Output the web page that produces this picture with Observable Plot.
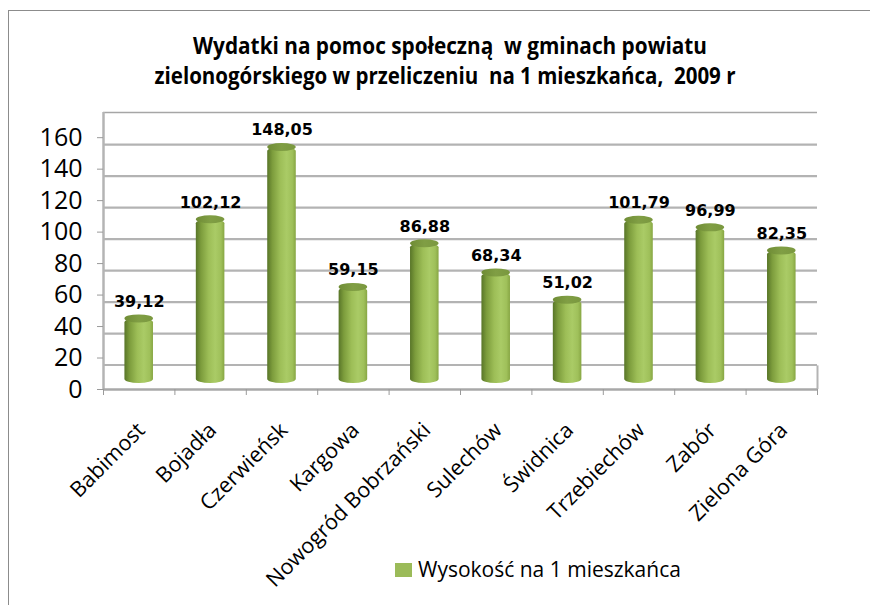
<!DOCTYPE html>
<html>
<head>
<meta charset="utf-8">
<script src="https://cdn.jsdelivr.net/npm/d3@7"></script>
<script src="https://cdn.jsdelivr.net/npm/@observablehq/plot@0.6"></script>
<style>
  body { margin: 0; background: #fff; }
  #wrap { position: relative; width: 870px; height: 605px; overflow: hidden; font-family: "Open Sans", sans-serif; }
  #border { position: absolute; left: 8px; top: 10px; width: 900px; height: 700px; border-top: 1px solid #8c8c8c; border-left: 1px solid #8c8c8c; }
  #titlesvg { position: absolute; left: 0; top: 0; }
  #chart { position: absolute; left: 0; top: 0; }
  #legend { position: absolute; left: 395px; top: 555px; display: flex; align-items: center; font-size: 21px; color: #000; white-space: pre; }
  #legend .sw { width: 17px; height: 14px; background: #9bbb59; margin-right: 6px; margin-top: 1px; }
</style>
</head>
<body>
<div id="wrap">
  <div id="border"></div>
  <svg id="titlesvg" width="870" height="100">
    <text id="t1" x="450" y="54" text-anchor="middle" textLength="514" lengthAdjust="spacingAndGlyphs" font-family="Open Sans" font-weight="700" font-size="23" style="white-space:pre"></text>
    <text id="t2" x="445" y="84" text-anchor="middle" textLength="581" lengthAdjust="spacingAndGlyphs" font-family="Open Sans" font-weight="700" font-size="23" style="white-space:pre"></text>
  </svg>
  <div id="chart"></div>
  <div id="legend"><div class="sw"></div><span id="legtext"></span></div>
</div>
<script>
// ---- data ----
const titleLines = ["Wydatki na pomoc społeczną  w gminach powiatu", "zielonogórskiego w przeliczeniu  na 1 mieszkańca,  2009 r"];
const gminy = ["Babimost", "Bojadła", "Czerwieńsk", "Kargowa", "Nowogród Bobrzański", "Sulechów", "Świdnica", "Trzebiechów", "Zabór", "Zielona Góra"];
const wartosci = [39.12, 102.12, 148.05, 59.15, 86.88, 68.34, 51.02, 101.79, 96.99, 82.35];
const yTicks = [0, 20, 40, 60, 80, 100, 120, 140, 160];
const seriesName = "Wysokość na 1 mieszkańca";

// ---- chart ----
document.getElementById("t1").textContent = titleLines[0];
document.getElementById("t2").textContent = titleLines[1];
document.getElementById("legtext").textContent = seriesName;

const yTop = 176;        // top edge of the back wall
const floorDepth = 15;   // depth of the 3D floor in value units
const shift = -9;        // 3D offset of columns
const fmt = v => v.toFixed(2).replace(".", ",");
const data = gminy.map((g, i) => ({g, i, v: wartosci[i]}));
const boundaries = d3.range(gminy.length + 1).map(k => k - 0.5);

const chart = Plot.plot({
  width: 870,
  height: 605,
  marginTop: 112,
  marginBottom: 216,
  marginLeft: 103,
  marginRight: 53,
  x: {domain: [-0.5, gminy.length - 0.5]},
  y: {domain: [0, yTop]},
  style: {background: "transparent", fontFamily: "Open Sans", color: "#000", overflow: "visible"},
  marks: [
    Plot.ruleY(yTicks.filter(t => t > 0), {dy: 7, stroke: "#b3b3b3", strokeWidth: 2.2}),
    Plot.ruleY([yTop], {stroke: "#a6a6a6", strokeWidth: 1.5}),
    Plot.ruleX([-0.5], {y1: 0, y2: yTop, stroke: "#b4b4b4", strokeWidth: 2.5}),
    Plot.ruleX([gminy.length - 0.5], {y1: 0, y2: floorDepth, stroke: "#b4b4b4", strokeWidth: 2}),
    Plot.ruleY([0], {stroke: "#a8a8a8", strokeWidth: 2.5}),
    Plot.axisY({ticks: yTicks, tickSize: 6, tickPadding: 15, fontSize: 25, stroke: "#9a9a9a", label: null}),
    Plot.axisX({ticks: boundaries, tickSize: 6, tickFormat: () => "", stroke: "#9a9a9a", label: null}),
    Plot.rect(data, {x1: d => d.i - 0.2, x2: d => d.i + 0.2, y1: 0, y2: "v", dy: shift, insetBottom: -3, fill: "url(#cyl)", rx: 14, ry: 4}),
    Plot.rect(data, {x1: d => d.i - 0.2, x2: d => d.i + 0.2, y1: "v", y2: "v", insetTop: -4, insetBottom: -4, dy: shift, fill: "url(#cap)", rx: 14, ry: 4}),
    Plot.text(data, {x: "i", y: "v", text: d => fmt(d.v), dy: shift - 12, lineAnchor: "bottom", fontFamily: "DejaVu Sans", fontWeight: "bold", fontSize: 16, fill: "#000", style: "letter-spacing:0.5px"}),
    Plot.text(data, {x: "i", frameAnchor: "bottom", text: "g", rotate: -45, textAnchor: "end", lineAnchor: "bottom", dx: 7, dy: 42, fontSize: 21.5, fill: "#000"})
  ]
});
document.getElementById("chart").appendChild(chart);

const defs = d3.select(chart).insert("defs", ":first-child");
const cyl = defs.append("linearGradient").attr("id", "cyl").attr("x1", 0).attr("x2", 1).attr("y1", 0).attr("y2", 0);
[[0, "#587528"], [0.18, "#7c9c3c"], [0.45, "#9dbe57"], [0.68, "#aacb66"], [0.88, "#9fc05a"], [1, "#87a643"]]
  .forEach(([o, c]) => cyl.append("stop").attr("offset", o).attr("stop-color", c));
const cap = defs.append("linearGradient").attr("id", "cap").attr("x1", 0).attr("x2", 1).attr("y1", 0).attr("y2", 0);
[[0, "#6f8c35"], [0.5, "#809e44"], [1, "#7a983f"]]
  .forEach(([o, c]) => cap.append("stop").attr("offset", o).attr("stop-color", c));
</script>
</body>
</html>
